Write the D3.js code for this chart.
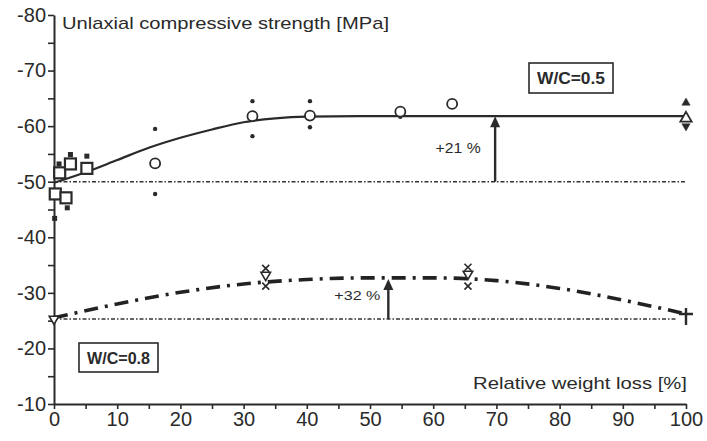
<!DOCTYPE html>
<html><head><meta charset="utf-8">
<script src="https://cdn.jsdelivr.net/npm/d3@7"></script>
<style>body{margin:0;background:#fff}svg{display:block}text{font-family:"Liberation Sans",Arial,sans-serif;fill:#2a2a2a}</style>
</head><body><svg id="c" width="707" height="441"></svg>
<script>
// ---- data ----
const xTickValues = [0,10,20,30,40,50,60,70,80,90,100];
const yTickValues = [-80,-70,-60,-50,-40,-30,-20,-10];
// W/C=0.5 fitted curve
const fit05X = [0,5,10,15,20,25,30,35,40,50,60,70,80,90,100];
const fit05Y = [-49.8,-51.7,-53.9,-56.1,-57.9,-59.4,-60.7,-61.4,-61.7,-61.8,-61.8,-61.8,-61.8,-61.8,-61.8];
// W/C=0.8 fitted curve
const fit08X = [0,10,20,30,40,50,60,70,80,90,100];
const fit08Y = [-25.5,-28.0,-30.1,-31.6,-32.4,-32.7,-32.7,-32.2,-30.8,-28.7,-26.2];
// baselines
const base05 = -50, base08 = -25.3;
// W/C=0.5 measured points
const squaresX = [0.2,0.9,1.9,2.6,5.2];
const squaresY = [-47.8,-51.6,-47.1,-53.2,-52.4];
const sqMinMaxX = [0.1,2.1,2.6,5.2,0.8];
const sqMinMaxY = [-43.4,-45.3,-54.9,-54.6,-53.2];
const circlesX = [16,31.4,40.5,54.8,63];
const circlesY = [-53.3,-61.8,-61.9,-62.6,-64.0];
const dotsX = [16,16,31.4,31.4,40.5,40.5,54.8];
const dotsY = [-59.5,-47.8,-64.5,-58.2,-64.5,-59.8,-61.7];
const tri05X = [100,100,100];
const tri05Y = [-64.2,-61.4,-60.0];
// W/C=0.8 measured points
const cross08X = [33.5,33.5,65.5,65.5];
const cross08Y = [-34.4,-31.2,-34.6,-31.2];
const open08X = [0,33.5,65.5];
const open08Y = [-25.3,-33.2,-33.4];
const plus08X = [100];
const plus08Y = [-26.2];
// annotations
const arrows = [{x:69.8, from:-50, to:-61.8, label:"+21 %"},{x:52.9, from:-25.3, to:-32.5, label:"+32 %"}];
const labels = {y:"Unlaxial compressive strength [MPa]", x:"Relative weight loss [%]", wc05:"W/C=0.5", wc08:"W/C=0.8"};

// ---- drawing ----
const svg = d3.select("#c");
const x = d3.scaleLinear().domain([0,100]).range([54,686]);
const y = d3.scaleLinear().domain([-80,-10]).range([15,404]);
const ink = "#2a2a2a";

// axes
const gx = svg.append("g").attr("transform",`translate(0,${y(-10)})`)
  .call(d3.axisBottom(x).tickValues(d3.range(0,101,5)).tickSize(5).tickSizeOuter(0).tickPadding(3)
    .tickFormat(d => xTickValues.includes(d) ? String(d) : ""));
const gy = svg.append("g").attr("transform",`translate(${x(0)},0)`)
  .call(d3.axisLeft(y).tickValues(d3.range(-80,-9,5)).tickSize(6).tickSizeOuter(0).tickPadding(2)
    .tickFormat(d => yTickValues.includes(d) ? String(d) : ""));
[gx,gy].forEach(g=>{
  g.select(".domain").attr("stroke",ink).attr("stroke-width",2);
  g.selectAll(".tick line").attr("stroke",ink).attr("stroke-width",1.6);
  g.selectAll(".tick text").attr("font-size",20).attr("fill",ink).attr("font-family","Liberation Sans, Arial, sans-serif");
});

// baselines
const line = d3.line().x(d=>x(d[0])).y(d=>y(d[1]));
svg.append("path").attr("d",line([[0,base05],[100,base05]])).attr("stroke","#333").attr("stroke-width",1.6)
  .attr("stroke-dasharray","4,2,1.5,2").attr("fill","none");
svg.append("path").attr("d",line([[0,base08],[98.5,base08]])).attr("stroke","#333").attr("stroke-width",1.6)
  .attr("stroke-dasharray","4,2,1.5,2").attr("fill","none");

// curves
const curve = d3.line().x(d=>x(d[0])).y(d=>y(d[1])).curve(d3.curveMonotoneX);
svg.append("path").attr("d",curve(fit05X.map((v,i)=>[v,fit05Y[i]]))).attr("stroke","#2a2a2a")
  .attr("stroke-width",2.2).attr("fill","none");
svg.append("path").attr("d",curve(fit08X.map((v,i)=>[v,fit08Y[i]]))).attr("stroke","#222")
  .attr("stroke-width",3.6).attr("fill","none").attr("stroke-dasharray","14,7,3,7");

// arrows
arrows.forEach(a=>{
  const xp = x(a.x), y0 = y(a.from), y1 = y(a.to);
  svg.append("line").attr("x1",xp).attr("x2",xp).attr("y1",y0).attr("y2",y1+8).attr("stroke",ink).attr("stroke-width",2.4);
  svg.append("path").attr("d",`M${xp},${y1} L${xp-5},${y1+11} L${xp+5},${y1+11} Z`).attr("fill",ink);
});
svg.append("text").attr("x",x(arrows[0].x)-37).attr("y",y(-55.1)).attr("text-anchor","middle").attr("font-size",14)
  .attr("textLength",45).attr("lengthAdjust","spacingAndGlyphs").text(arrows[0].label);
svg.append("text").attr("x",x(arrows[1].x)-31).attr("y",y(-28.8)).attr("text-anchor","middle").attr("font-size",13.5)
  .attr("textLength",46).attr("lengthAdjust","spacingAndGlyphs").text(arrows[1].label);

// markers W/C=0.5
svg.selectAll(".sqmm").data(sqMinMaxX).enter().append("rect")
  .attr("x",(d,i)=>x(d)-2.5).attr("y",(d,i)=>y(sqMinMaxY[i])-2.5).attr("width",5).attr("height",5).attr("fill",ink);
svg.selectAll(".sq").data(squaresX).enter().append("rect")
  .attr("x",(d,i)=>x(d)-5.5).attr("y",(d,i)=>y(squaresY[i])-5.5).attr("width",11).attr("height",11)
  .attr("fill","#fff").attr("stroke",ink).attr("stroke-width",2.2);
svg.selectAll(".dot").data(dotsX).enter().append("circle")
  .attr("cx",d=>x(d)).attr("cy",(d,i)=>y(dotsY[i])).attr("r",2.2).attr("fill",ink);
svg.selectAll(".circ").data(circlesX).enter().append("circle")
  .attr("cx",d=>x(d)).attr("cy",(d,i)=>y(circlesY[i])).attr("r",5).attr("fill","#fff").attr("stroke",ink).attr("stroke-width",1.8);
const sym = (type,size)=>d3.symbol().type(type).size(size)();
svg.selectAll(".tri").data(tri05X).enter().append("path")
  .attr("transform",(d,i)=>`translate(${x(d)},${y(tri05Y[i])})${i===2?" rotate(180)":""}`)
  .attr("d",(d,i)=>sym(d3.symbolTriangle,i===1?55:30))
  .attr("fill",(d,i)=>i===1?"#fff":ink).attr("stroke",ink).attr("stroke-width",(d,i)=>i===1?1.8:0.5);

// markers W/C=0.8
svg.selectAll(".cr").data(cross08X).enter().append("path")
  .attr("transform",(d,i)=>`translate(${x(d)},${y(cross08Y[i])})`)
  .attr("d","M-3.5,-3.5L3.5,3.5M-3.5,3.5L3.5,-3.5")
  .attr("stroke",ink).attr("stroke-width",1.6).attr("fill","none");
svg.selectAll(".op").data(open08X).enter().append("path")
  .attr("transform",(d,i)=>`translate(${x(d)},${y(open08Y[i])}) rotate(180)`)
  .attr("d",sym(d3.symbolTriangle,40)).attr("fill","#fff").attr("stroke",ink).attr("stroke-width",1.6);
svg.selectAll(".pl").data(plus08X).enter().append("path")
  .attr("transform",(d,i)=>`translate(${x(d)},${y(plus08Y[i])})`)
  .attr("d","M-7,0L7,0M0,-6L0,11").attr("stroke",ink).attr("stroke-width",2.4).attr("fill","none");

// axis titles
svg.append("text").attr("x",62).attr("y",29).attr("font-size",17).attr("textLength",327).attr("lengthAdjust","spacingAndGlyphs").text(labels.y);
svg.append("text").attr("x",473).attr("y",389).attr("font-size",17).attr("textLength",214).attr("lengthAdjust","spacingAndGlyphs").text(labels.x);

// legend boxes
function box(x0,y0,w,h,t){
  svg.append("rect").attr("x",x0).attr("y",y0).attr("width",w).attr("height",h).attr("fill","#fff").attr("stroke",ink).attr("stroke-width",1.6);
  svg.append("text").attr("x",x0+w/2).attr("y",y0+h/2+6).attr("text-anchor","middle").attr("font-size",16).attr("font-weight","bold")
    .attr("textLength",w-16).attr("lengthAdjust","spacingAndGlyphs").text(t);
}
box(529,63,84,30,labels.wc05);
box(79,343,79,29,labels.wc08);
</script></body></html>
